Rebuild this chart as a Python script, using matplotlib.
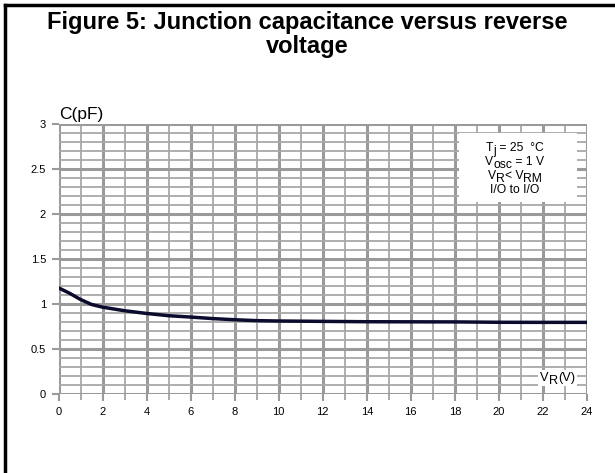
import matplotlib
matplotlib.use("Agg")
import matplotlib.pyplot as plt
from matplotlib.lines import Line2D
from matplotlib.patches import Rectangle
from matplotlib.ticker import MultipleLocator

plt.rcParams['font.family'] = ['Liberation Sans', 'DejaVu Sans']

# reverse voltage (V) and junction capacitance (pF)
vr = [0, 0.5, 1, 1.5, 2, 3, 4, 5, 6, 7, 8, 9, 10, 12, 14, 16, 18, 20, 22, 24]
cap = [1.18, 1.12, 1.05, 0.995, 0.965, 0.925, 0.895, 0.87, 0.855, 0.838,
       0.825, 0.815, 0.811, 0.807, 0.803, 0.802, 0.801, 0.797, 0.796, 0.796]

xticks = list(range(0, 25, 2))
yticks = [0, 0.5, 1, 1.5, 2, 2.5, 3]
ytick_labels = ['0', '0.5', '1', '1.5', '2', '2.5', '3']

# conditions box, one list of (text, subscript?) pieces per line
cond_lines = [
    [('T', False), ('j', True), (' = 25  \u00b0C', False)],
    [('V', False), ('osc', True), (' = 1 V', False)],
    [('V', False), ('R', True), ('< V', False), ('RM', True)],
    [('I/O to I/O', False)],
]

W, H = 615, 473
fig = plt.figure(figsize=(W / 100, H / 100), dpi=100)
ax = fig.add_axes([58.5 / W, 79 / H, 528.5 / W, 270 / H])
renderer = fig.canvas.get_renderer()


def rich_line(x, y, pieces, size, ha='center', zorder=5):
    """Write pieces side by side from pixel x (from left), baseline y (from top)."""
    widths = []
    for s, sub in pieces:
        t = fig.text(0, 0, s, fontsize=size)
        widths.append(t.get_window_extent(renderer).width)
        t.remove()
    total = sum(widths)
    start = x - total / 2 if ha == 'center' else (x - total if ha == 'right' else x)
    for (s, sub), w in zip(pieces, widths):
        yy = y + (0.28 * size * 100 / 72 if sub else 0)
        fig.text(start / W, 1 - yy / H, s, fontsize=size, va='baseline', ha='left',
                 zorder=zorder)
        start += w
    return total


ax.plot(vr, cap, color='#0b0b2e', lw=2.5, solid_capstyle='round', zorder=3)

ax.set_xlim(0, 24)
ax.set_ylim(0, 3)
ax.set_xticks(xticks)
ax.set_yticks(yticks)
ax.set_yticklabels(ytick_labels)
ax.xaxis.set_minor_locator(MultipleLocator(1))
ax.yaxis.set_minor_locator(MultipleLocator(0.1))

ax.grid(which='major', color='#9a9a9a', lw=2.2)
ax.grid(which='minor', color='#a8a8a8', lw=1.3)
ax.set_axisbelow(True)
for s in ax.spines.values():
    s.set_visible(False)
ax.tick_params(which='both', direction='out', color='#9a9a9a', labelsize=8,
               labelcolor='black')
ax.tick_params(which='major', length=5, width=1.5, pad=4)
ax.tick_params(axis='x', which='minor', length=4, width=1.2)
ax.tick_params(axis='y', which='minor', length=0)

# white box for the test conditions
ax.add_patch(Rectangle((18.2, 2.13), 5.35, 0.77, facecolor='white', edgecolor='none',
                       zorder=4))
for i, line in enumerate(cond_lines):
    rich_line(515, 151 + i * 14, line, 8.7)

# axis names
fig.text(59 / W, 1 - 119 / H, 'C(pF)', fontsize=12.5, va='baseline', ha='left')
wl = rich_line(575, 380.5, [('V', False), ('R', True), ('(V)', False)], 9.2, ha='right')
fig.add_artist(Rectangle(((575 - wl - 2) / W, 1 - 386 / H), (wl + 4) / W, 16 / H,
                         facecolor='white', edgecolor='none', zorder=4,
                         transform=fig.transFigure))

fig.text(0.5, 1 - 29 / H, 'Figure 5: Junction capacitance versus reverse',
         fontsize=17, fontweight='bold', ha='center', va='baseline')
fig.text(0.5, 1 - 53 / H, 'voltage',
         fontsize=17, fontweight='bold', ha='center', va='baseline')

# frame round the figure (left and top edges show in the picture)
fig.add_artist(Line2D([5 / W, 5 / W], [0, 1 - 5 / H], color='black', lw=2.5,
                      transform=fig.transFigure))
fig.add_artist(Line2D([5 / W, 613 / W], [1 - 5 / H, 1 - 5 / H], color='black',
                      lw=2.5, transform=fig.transFigure))

fig.savefig('out.png', dpi=100)
